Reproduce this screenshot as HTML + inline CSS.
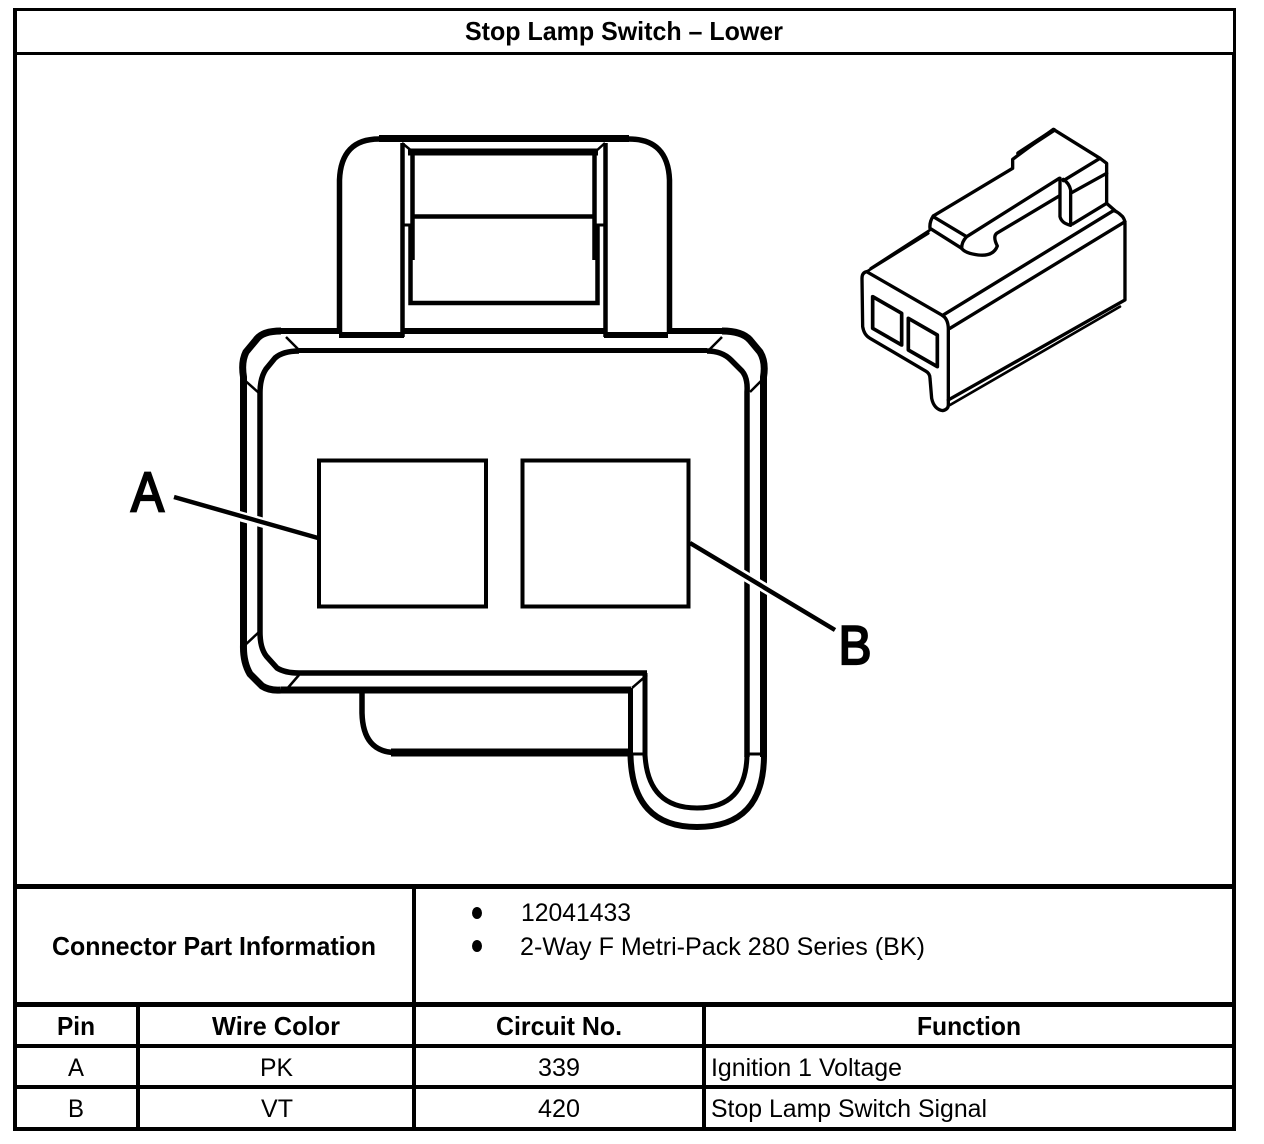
<!DOCTYPE html>
<html><head><meta charset="utf-8"><style>
html,body{margin:0;padding:0;background:#fff}
svg{display:block}
text{font-family:"Liberation Sans",sans-serif;fill:#000;font-size:25px}
.b{font-weight:bold;font-size:26px}
</style></head><body>
<svg width="1264" height="1144" viewBox="0 0 1264 1144" xmlns="http://www.w3.org/2000/svg">
<!-- Table -->
<g fill="#000" shape-rendering="crispEdges">
<rect x="13" y="8" width="1223" height="3"/>
<rect x="13" y="52" width="1223" height="3"/>
<rect x="13" y="884" width="1223" height="5"/>
<rect x="13" y="1002" width="1223" height="5"/>
<rect x="13" y="1044" width="1223" height="4"/>
<rect x="13" y="1085" width="1223" height="4"/>
<rect x="13" y="1127" width="1223" height="4"/>
<rect x="13" y="8" width="4" height="1123"/>
<rect x="1233" y="8" width="3" height="44"/>
<rect x="1232" y="52" width="4" height="1079"/>
<rect x="136" y="1002" width="4" height="129"/>
<rect x="412" y="884" width="4" height="247"/>
<rect x="702" y="1002" width="4" height="129"/>
</g>
<text class="b" x="465" y="40" textLength="318" lengthAdjust="spacingAndGlyphs">Stop Lamp Switch – Lower</text>
<text class="b" x="52" y="955" textLength="324" lengthAdjust="spacingAndGlyphs">Connector Part Information</text>
<ellipse cx="477" cy="913" rx="5" ry="6"/><ellipse cx="477" cy="946" rx="5" ry="6"/>
<text x="521" y="921" textLength="110" lengthAdjust="spacingAndGlyphs">12041433</text>
<text x="520" y="955" textLength="405" lengthAdjust="spacingAndGlyphs">2-Way F Metri-Pack 280 Series (BK)</text>
<text class="b" x="57" y="1035" textLength="38" lengthAdjust="spacingAndGlyphs">Pin</text>
<text class="b" x="212" y="1035" textLength="128" lengthAdjust="spacingAndGlyphs">Wire Color</text>
<text class="b" x="496" y="1035" textLength="126" lengthAdjust="spacingAndGlyphs">Circuit No.</text>
<text class="b" x="917" y="1035" textLength="104" lengthAdjust="spacingAndGlyphs">Function</text>
<text x="68" y="1076" textLength="16" lengthAdjust="spacingAndGlyphs">A</text>
<text x="260" y="1076" textLength="33" lengthAdjust="spacingAndGlyphs">PK</text>
<text x="538" y="1076" textLength="42" lengthAdjust="spacingAndGlyphs">339</text>
<text x="711" y="1076" textLength="191" lengthAdjust="spacingAndGlyphs">Ignition 1 Voltage</text>
<text x="68" y="1117" textLength="16" lengthAdjust="spacingAndGlyphs">B</text>
<text x="261" y="1117" textLength="32" lengthAdjust="spacingAndGlyphs">VT</text>
<text x="538" y="1117" textLength="42" lengthAdjust="spacingAndGlyphs">420</text>
<text x="711" y="1117" textLength="276" lengthAdjust="spacingAndGlyphs">Stop Lamp Switch Signal</text>

<!-- Main connector -->
<g fill="none" stroke="#000" stroke-linecap="butt" stroke-linejoin="miter">
<!-- top tab -->
<path d="M339.5 332V180Q341 139 379 139H629Q668 139 669.5 180V332" stroke-width="5.5"/>
<path d="M379 138.5H629" stroke-width="7"/>
<path d="M402.5 143V337M605.5 143V337" stroke-width="4.5"/>
<path d="M339 335H404M604 335H668" stroke-width="6"/>
<path d="M402 143L413 152M605 143L595 152" stroke-width="2.5"/>
<path d="M408 152H598" stroke-width="7"/>
<path d="M412.5 152V260M594.5 152V260" stroke-width="4.5"/>
<path d="M410.5 225V303H597.5V225" stroke-width="4.5"/>
<path d="M403 225H412M596 225H605" stroke-width="3"/>
<path d="M412 216.5H595" stroke-width="4.5"/>
<!-- body top -->
<path d="M281 331H340M404 331H604M668 331H722" stroke-width="6"/>
<path d="M299 350.5H707" stroke-width="5"/>
<!-- body outer -->
<path d="M281 331Q262 331 256 340L246 352Q241 362 243.5 377V645Q243 662 250 674L262 686Q270 691 281 690" stroke-width="7"/>
<path d="M722 331Q742 331 750 340L760 352Q766 362 763.5 377V757" stroke-width="7"/>
<!-- body inner -->
<path d="M299 351Q283 351 275 358L266 369Q260 378 260 393V632Q260 650 268 658L277 668Q285 673 299 673H647" stroke-width="5.5"/>
<path d="M707 351Q722 351 731 360L742 371Q748 378 747 392V757" stroke-width="5.5"/>
<!-- chamfers -->
<path d="M286 337L299 350M241 377L259 393M722 337L709 350M765 377L750 392M259 632L243 647M299 675L286 690M647 675L632 688" stroke-width="2.5"/>
<!-- lower edge -->
<path d="M281 690H631" stroke-width="7"/>
<path d="M630.5 688V757M645 673V757" stroke-width="5"/>
<!-- lower tab -->
<path d="M362 690V713Q363 752 395 752.5H630" stroke-width="5.5"/>
<path d="M391 752.5H630" stroke-width="8"/>
<!-- U -->
<path d="M630.5 755Q632 827 697 827Q764 827 764 755" stroke-width="6"/>
<path d="M645 755Q648 808 697 808Q746 808 747 755" stroke-width="5"/>
<path d="M630 754H646M745 754H766" stroke-width="3"/>
<!-- pin windows -->
<rect x="319" y="460.5" width="167" height="146" stroke-width="4"/>
<rect x="522.5" y="460.5" width="166" height="146" stroke-width="4"/>
<!-- leaders with white halo -->
<path d="M225 512L280 527.5M695 546L790 603" stroke="#fff" stroke-width="10"/>
<path d="M174 497L318 538M690 543L835 630" stroke-width="4.5"/>
</g>
<text x="131" y="511" style="font-size:56px;stroke:#000;stroke-width:2.2px" textLength="33" lengthAdjust="spacingAndGlyphs">A</text>
<text x="838.5" y="664" style="font-size:55px;stroke:#000;stroke-width:2.2px" textLength="33" lengthAdjust="spacingAndGlyphs">B</text>

<!-- Isometric connector -->
<g transform="translate(850 120) scale(.3333)" fill="none" stroke="#000" stroke-width="10" stroke-linejoin="round" stroke-linecap="round">
<path d="M50 455Q36 458 36 475L38 620Q42 645 60 655L225 752Q240 760 240 775L245 835Q252 868 278 872Q295 868 295 855V625Q294 595 275 585L50 455"/>
<path d="M280 585L790 272Q800 272 818 290Q825 300 825 310V540L295 840"/>
<path d="M300 625L825 305"/>
<path d="M300 855L810 560" stroke-width="8"/>
<path d="M50 455L235 340M62 445L240 330" stroke-width="8"/>
<path d="M770 250L795 272M770 250L668 312"/>
<path d="M630 175V290Q635 310 662 316V210Q658 190 640 178"/>
<path d="M250 288L488 145V118L610 28L750 115L770 130V250"/>
<path d="M505 100L612 30" stroke-width="13"/>
<path d="M750 115L640 182M770 160L665 218"/>
<path d="M250 288Q238 305 240 325L335 385Q345 400 385 405Q430 410 442 378Q428 350 440 340L628 228"/>
<path d="M250 290L350 350L628 175M350 350Q335 365 335 385"/>
<path d="M68 530L155 580V675L68 625Z" stroke-width="11"/>
<path d="M175 595L262 645V740L175 690Z" stroke-width="11"/>
</g>
</svg>
</body></html>
